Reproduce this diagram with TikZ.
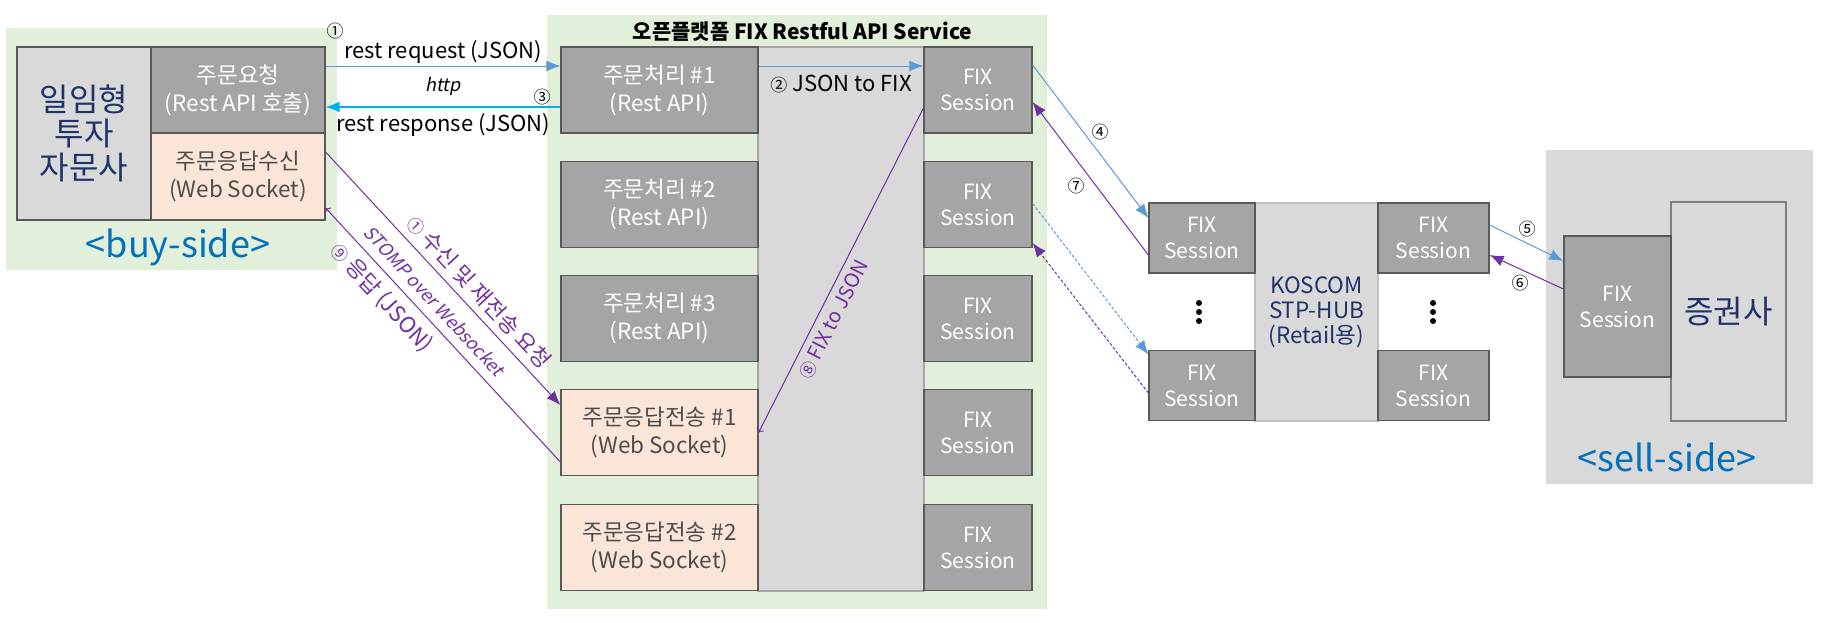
\documentclass[tikz,border=0pt]{standalone}
\usepackage{fontspec}
\setmainfont{Noto Sans CJK KR}[ItalicFont={Noto Sans CJK KR},ItalicFeatures={FakeSlant=0.2}]
\usepackage{tikz}
\usetikzlibrary{arrows.meta}
\definecolor{cvert}{rgb}{0.886, 0.937, 0.855}
\definecolor{cgris}{rgb}{0.647, 0.647, 0.647}
\definecolor{cgrisclair}{rgb}{0.851, 0.851, 0.851}
\definecolor{cpeche}{rgb}{0.984, 0.898, 0.839}
\definecolor{cbord}{rgb}{0.35, 0.35, 0.35}
\definecolor{cmarine}{rgb}{0.12, 0.2, 0.42}
\definecolor{ctexte}{rgb}{0.3, 0.3, 0.3}
\definecolor{cbleu}{rgb}{0.357, 0.608, 0.835}
\definecolor{ccyan}{rgb}{0, 0.69, 0.94}
\definecolor{cviolet}{rgb}{0.44, 0.19, 0.63}
\definecolor{cside}{rgb}{0, 0.44, 0.75}
\newcommand{\numero}[1]{{\fontsize{17}{17}\selectfont #1}}

\begin{document}
\begin{tikzpicture}[x=1pt, y=-1pt]
	\tikzstyle{fond}=[rectangle, inner sep=0pt]
	\tikzstyle{boite}=[rectangle, draw=cbord, line width=1.2pt, fill=cgris, text=white, align=center, inner sep=0pt, font=\fontsize{22.5}{28}\selectfont]
	\tikzstyle{boiteweb}=[boite, fill=cpeche, text=ctexte]
	\tikzstyle{fix}=[boite, font=\fontsize{21}{26}\selectfont]
	\tikzstyle{fleche}=[-{Latex[length=14pt, width=11pt]}, line width=1pt]
	\tikzstyle{num}=[inner sep=0pt, font=\fontsize{17}{17}\selectfont]
	\tikzstyle{lbl}=[inner sep=2pt, font=\fontsize{22}{22}\selectfont]

	\useasboundingbox (0,0) rectangle (1825,622);

	% BUY-SIDE
	\node[fond, fill=cvert, minimum width=331pt, minimum height=242pt] (buy) at (171.5,149) {};
	\node[rectangle, draw=cbord, line width=1.2pt, fill=cgrisclair, text=cmarine, align=center, inner sep=0pt, minimum width=134pt, minimum height=173pt, font=\fontsize{32}{34}\selectfont] (ilim) at (84,133.5) {일임형\\투자\\자문사};
	\node[boite, minimum width=174pt, minimum height=86pt] (req) at (238,90) {주문요청\\(Rest API 호출)};
	\node[boiteweb, minimum width=174pt, minimum height=87pt] (recv) at (238,176.5) {주문응답수신\\(Web Socket)};
	\node[text=cside, font=\fontsize{36}{36}\selectfont] (buylbl) at (178,247) {<buy-side>};

	% SERVICE
	\node[fond, fill=cvert, minimum width=500pt, minimum height=594pt] (svc) at (797,312) {};
	\node[font=\bfseries\fontsize{21}{21}\selectfont] (titre) at (802.5,32) {오픈플랫폼 FIX Restful API Service};
	\node[fond, draw=gray!70, line width=1.2pt, fill=cgrisclair, minimum width=166pt, minimum height=544pt] (col) at (841,319) {};

	\node[boite, minimum width=197pt, minimum height=86pt] (rp1) at (659.5,90) {주문처리 \#1\\(Rest API)};
	\node[boite, minimum width=197pt, minimum height=86pt] (rp2) at (659.5,204.5) {주문처리 \#2\\(Rest API)};
	\node[boite, minimum width=197pt, minimum height=86pt] (rp3) at (659.5,318.5) {주문처리 \#3\\(Rest API)};
	\node[boiteweb, minimum width=197pt, minimum height=86pt] (ws1) at (659.5,432.5) {주문응답전송 \#1\\(Web Socket)};
	\node[boiteweb, minimum width=197pt, minimum height=86pt] (ws2) at (659.5,547.5) {주문응답전송 \#2\\(Web Socket)};

	\node[fix, minimum width=108pt, minimum height=86pt] (fs1) at (978,90) {FIX\\Session};
	\node[fix, minimum width=108pt, minimum height=86pt] (fs2) at (978,204.5) {FIX\\Session};
	\node[fix, minimum width=108pt, minimum height=86pt] (fs3) at (978,318.5) {FIX\\Session};
	\node[fix, minimum width=108pt, minimum height=86pt] (fs4) at (978,432.5) {FIX\\Session};
	\node[fix, minimum width=108pt, minimum height=86pt] (fs5) at (978,547.5) {FIX\\Session};

	% STP-HUB
	\node[fond, draw=gray!50, line width=1.2pt, fill=cgrisclair, text=cmarine, align=center, font=\fontsize{22.5}{25}\selectfont, minimum width=123pt, minimum height=218pt] (hub) at (1316.5,312) {KOSCOM\\STP-HUB\\(Retail용)};
	\node[fix, minimum width=106pt, minimum height=70pt] (hl1) at (1202,238) {FIX\\Session};
	\node[fix, minimum width=106pt, minimum height=70pt] (hl2) at (1202,385.5) {FIX\\Session};
	\node[fix, minimum width=111pt, minimum height=70pt] (hr1) at (1433.5,238) {FIX\\Session};
	\node[fix, minimum width=111pt, minimum height=70pt] (hr2) at (1433.5,385.5) {FIX\\Session};
	\fill (1199,303) circle (3pt) (1199,312) circle (3pt) (1199,321) circle (3pt);
	\fill (1433,303) circle (3pt) (1433,312) circle (3pt) (1433,321) circle (3pt);

	% SELL-SIDE
	\node[fond, fill=cgrisclair, minimum width=267pt, minimum height=334pt] (sell) at (1679.5,317) {};
	\node[fond, draw=gray, line width=1.2pt, fill=cgrisclair, text=cmarine, font=\fontsize{32}{32}\selectfont, minimum width=115pt, minimum height=219pt] (secu) at (1728.5,311.5) {증권사};
	\node[fix, minimum width=107pt, minimum height=141pt] (sfs) at (1617.5,306.5) {FIX\\Session};
	\node[text=cside, font=\fontsize{36}{36}\selectfont] (selllbl) at (1667,457) {<sell-side>};

	% NUMEROS
	\node[num] (n1) at (335,31) {①};
	\node[num] (n3) at (542,97) {③};
	\node[num] (n4) at (1100,132) {④};
	\node[num] (n7) at (1076,186) {⑦};
	\node[num] (n5) at (1527,229) {⑤};
	\node[num] (n6) at (1520,283) {⑥};

	% FLECHES
	\path
		([yshift=24pt]req.east) edge [fleche, draw=cbleu] node[lbl, above] (lreq) {rest request (JSON)}
			node[lbl, below, yshift=-9pt, font=\itshape\fontsize{18}{18}\selectfont] (lhttp) {http} ([yshift=24pt]rp1.west)
		([yshift=-17pt]rp1.west) edge [fleche, draw=ccyan, line width=1.5pt] node[lbl, below, yshift=-4pt] (lresp) {rest response (JSON)} ([yshift=-17pt]req.east)
		([yshift=24pt]rp1.east) edge [fleche, draw=cbleu] node[lbl, below, yshift=-7pt] (ljf) {\numero{②} JSON to FIX} ([yshift=24pt]fs1.west)

		([yshift=25pt]fs1.east) edge [fleche, draw=cbleu] ([yshift=20pt]hl1.west)
		([yshift=-17pt]hl1.west) edge [fleche, draw=cviolet] ([yshift=-12pt]fs1.east)
		([yshift=1pt]fs2.east) edge [fleche, draw=cbleu, dash pattern=on 3pt off 2pt] ([yshift=31pt]hl2.west)
		([yshift=-7.5pt]hl2.west) edge [fleche, draw=cviolet, dash pattern=on 3pt off 2pt] ([yshift=-38.5pt]fs2.east)

		([yshift=13pt]hr1.east) edge [fleche, draw=cbleu] ([yshift=45.5pt]sfs.west)
		([yshift=17.5pt]sfs.west) edge [fleche, draw=cviolet] ([yshift=-17pt]hr1.east)

		([yshift=24.5pt]recv.east) edge [fleche, draw=cviolet] node[lbl, sloped, above=5pt, pos=0.6, text=cviolet] (lsub) {\numero{①} 수신 및 재전송 요청} ([yshift=27.5pt]ws1.west)
		([yshift=-31.5pt]recv.east) edge [fleche, <-, draw=cviolet]
			node[lbl, sloped, above=7pt, pos=0.41, text=cviolet, font=\itshape\fontsize{18}{18}\selectfont] (lstomp) {STOMP over Websocket}
			node[lbl, sloped, below=6pt, pos=0.3, text=cviolet] (lrep) {\numero{⑨} 응답 (JSON)} ([yshift=-29.5pt]ws1.west)

		(ws1.east) edge [fleche, <-, draw=cviolet] node[lbl, sloped, below=5pt, pos=0.37, text=cviolet, font=\fontsize{20}{20}\selectfont] (lfj) {\numero{⑧} FIX to JSON} ([yshift=-18pt]fs1.west)
	;
\end{tikzpicture}
\end{document}
